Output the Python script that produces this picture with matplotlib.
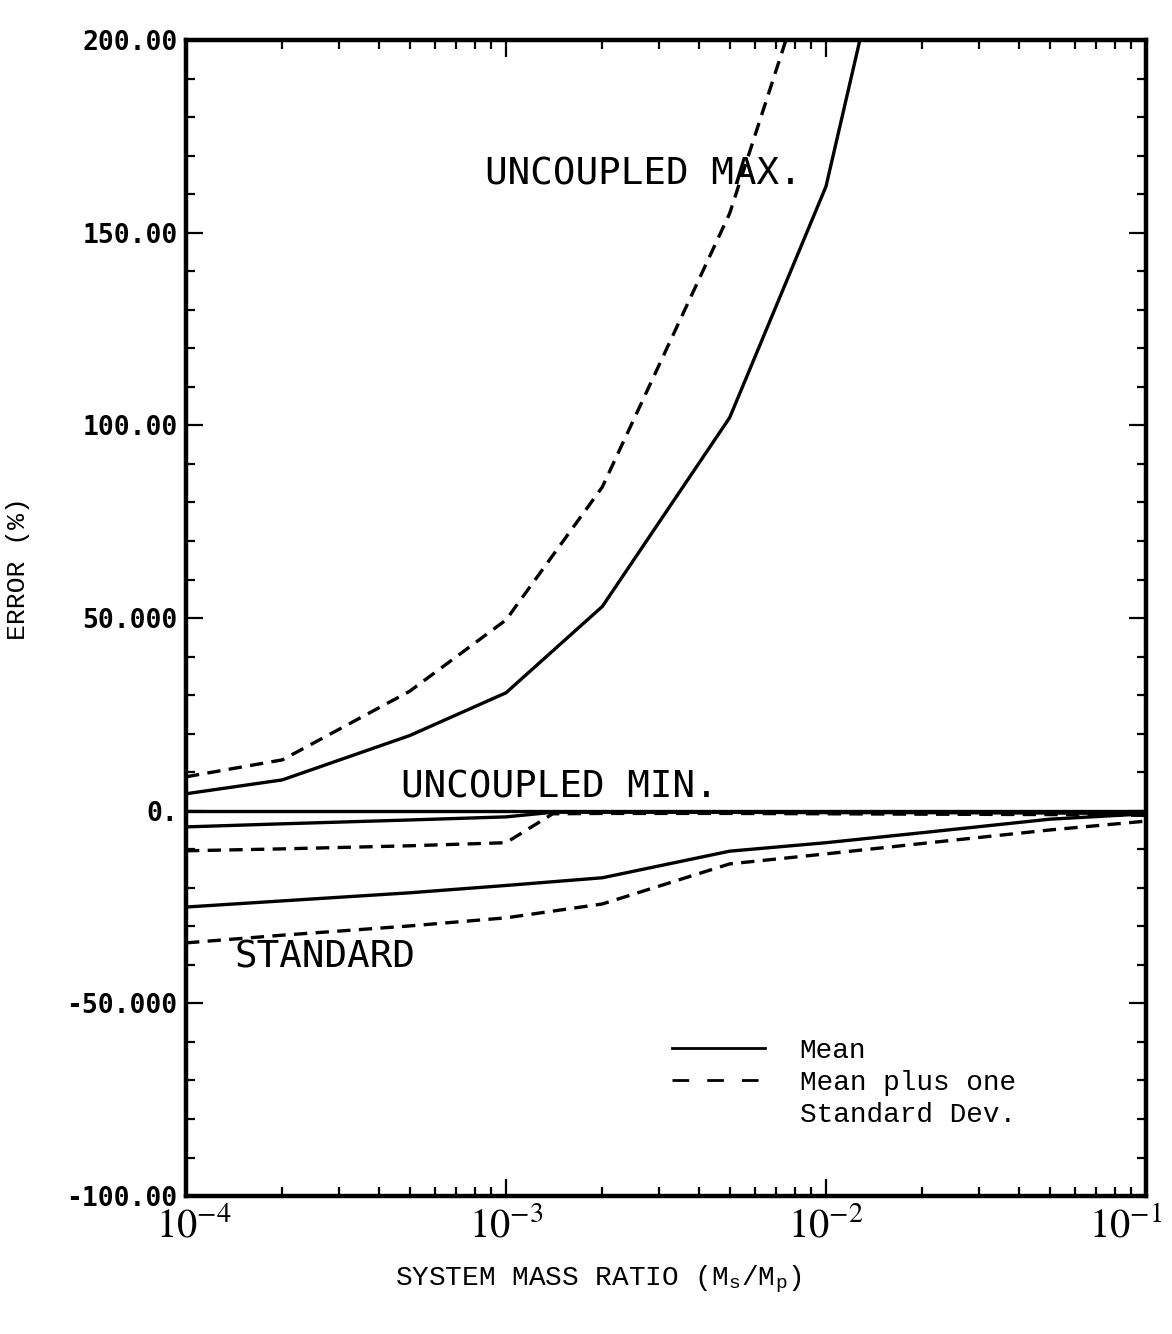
import matplotlib
matplotlib.use("Agg")
import matplotlib.pyplot as plt
import matplotlib.ticker as mticker
import matplotlib.transforms as mtransforms
from matplotlib.lines import Line2D

# ── data ──────────────────────────────────────────────────
# uncoupled max.
max_mean_x = [1e-4, 2e-4, 5e-4, 1e-3, 2e-3, 5e-3, 1e-2, 2e-2]
max_mean = [4.4, 8.0, 19.5, 30.6, 53.0, 102.0, 162.0, 270.0]
max_sd_x = [1e-4, 2e-4, 5e-4, 1e-3, 2e-3, 5e-3, 1e-2]
max_sd = [8.8, 13.2, 31.0, 49.5, 84.0, 155.0, 232.0]

# uncoupled min.
min_x = [1e-4, 2e-4, 5e-4, 1e-3, 1.4e-3, 2e-3, 5e-3, 1e-2, 2e-2, 5e-2, 1e-1]
min_mean = [-4.2, -3.4, -2.4, -1.6, -0.4, -0.4, -0.4, -0.5, -0.5, -0.6, -0.7]
min_sd = [-10.4, -9.9, -9.1, -8.3, -0.8, -0.7, -0.7, -0.8, -0.9, -1.0, -1.2]

# standard
std_x = [1e-4, 2e-4, 5e-4, 1e-3, 2e-3, 5e-3, 1e-2, 2e-2, 5e-2, 1e-1]
std_mean = [-25.0, -23.4, -21.3, -19.4, -17.4, -10.5, -8.3, -5.7, -2.2, -0.8]
std_sd = [-34.3, -32.3, -29.9, -27.8, -24.2, -13.8, -11.2, -8.5, -5.0, -2.7]

# axis ticks
y_ticks = [200, 150, 100, 50, 0, -50, -100]
y_tick_labels = ["200.00", "150.00", "100.00", "50.000", "0.", "-50.000", "-100.00"]
x_ticks = [1e-4, 1e-3, 1e-2, 1e-1]
x_tick_labels = [r"$10^{-4}$", r"$10^{-3}$", r"$10^{-2}$", r"$10^{-1}$"]

# ── style ─────────────────────────────────────────────────
plt.rcParams["mathtext.fontset"] = "stix"
LW = 2.4
DASH = (4, 2.5)
MONO = "DejaVu Sans Mono"
TYPE = "Liberation Mono"

fig = plt.figure(figsize=(11.72, 13.34), dpi=100)
ax = fig.add_axes([0.1587, 0.1034, 0.8191, 0.8666])

# ── curves ────────────────────────────────────────────────
ax.axhline(0, color="black", lw=LW)
ax.plot(max_mean_x, max_mean, color="black", lw=LW)
ax.plot(max_sd_x, max_sd, color="black", lw=LW, dashes=DASH)
ax.plot(min_x, min_mean, color="black", lw=LW)
ax.plot(min_x, min_sd, color="black", lw=LW, dashes=DASH)
ax.plot(std_x, std_mean, color="black", lw=LW)
ax.plot(std_x, std_sd, color="black", lw=LW, dashes=DASH)

# ── axes ──────────────────────────────────────────────────
ax.set_xscale("log")
ax.set_xlim(1e-4, 1e-1)
ax.set_ylim(-100, 200)

for s in ax.spines.values():
    s.set_linewidth(3.2)

ax.set_yticks(y_ticks)
ax.set_yticklabels(y_tick_labels, fontfamily=MONO, fontweight="bold", fontsize=19)
ax.yaxis.set_minor_locator(mticker.MultipleLocator(10))

ax.set_xticks(x_ticks)
ax.set_xticklabels(x_tick_labels, fontsize=29)
ax.xaxis.set_minor_locator(mticker.LogLocator(base=10, subs=range(2, 10), numticks=20))
ax.xaxis.set_minor_formatter(mticker.NullFormatter())

ax.tick_params(which="both", direction="in", top=True, right=True, width=1.6)
ax.tick_params(which="major", length=12)
ax.tick_params(which="minor", length=6.5)
ax.tick_params(axis="y", pad=6)
ax.tick_params(axis="x", pad=7)

# nudge the end labels so they stay inside the page
shift_l = mtransforms.ScaledTranslation(0.08, 0, fig.dpi_scale_trans)
shift_r = mtransforms.ScaledTranslation(-0.2, 0, fig.dpi_scale_trans)
xlabels = ax.get_xticklabels()
xlabels[0].set_transform(xlabels[0].get_transform() + shift_l)
xlabels[-1].set_transform(xlabels[-1].get_transform() + shift_r)

ax.set_ylabel("ERROR (%)", fontfamily=TYPE, fontsize=19)
ax.yaxis.set_label_coords(-0.1625, 0.543)
ax.set_xlabel(r"SYSTEM MASS RATIO (M$_\mathregular{s}$/M$_\mathregular{p}$)",
              fontfamily=TYPE, fontsize=20)
ax.xaxis.set_label_coords(0.43, -0.058)

# ── curve labels ──────────────────────────────────────────
ax.text(8.6e-4, 165, "UNCOUPLED MAX.", fontfamily=MONO, fontsize=27, va="center")
ax.text(4.7e-4, 6, "UNCOUPLED MIN.", fontfamily=MONO, fontsize=27, va="center")
ax.text(1.42e-4, -38, "STANDARD", fontfamily=MONO, fontsize=27, va="center")

# ── legend ────────────────────────────────────────────────
handles = [
    Line2D([], [], color="black", lw=2.0),
    Line2D([], [], color="black", lw=2.0, dashes=(6, 6.5)),
    Line2D([], [], color="none"),
]
labels = ["Mean", "Mean plus one", "Standard Dev."]
ax.legend(handles, labels, loc="upper left", bbox_to_anchor=(0.506, 0.137),
          frameon=False, borderpad=0, borderaxespad=0, handlelength=3.35,
          handletextpad=1.25, labelspacing=0.22,
          prop={"family": TYPE, "size": 20})

fig.savefig("out.png", dpi=100)
